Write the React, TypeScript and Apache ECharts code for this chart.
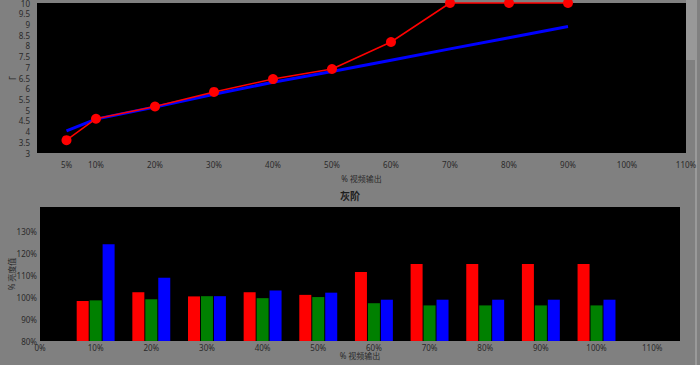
import React, { useEffect, useRef } from "react";
import * as echarts from "echarts";

// Top chart: gamma
const gammaX = [5, 10, 20, 30, 40, 50, 60, 70, 80, 90];
const gammaMeasured = [3.6, 4.6, 5.17, 5.85, 6.45, 6.92, 8.18, 10, 10, 10];
const gammaTarget = [4.03, 4.58, 5.15, 5.74, 6.3, 6.8, 7.33, 7.86, 8.38, 8.9];
const topXLabels = [5, 10, 20, 30, 40, 50, 60, 70, 80, 90, 100, 110];

// Bottom chart: grayscale RGB levels
const levelX = [10, 20, 30, 40, 50, 60, 70, 80, 90, 100];
const redLevels = [98.2, 102.2, 100.3, 102.2, 101.0, 111.4, 115.0, 115.0, 115.0, 115.0];
const greenLevels = [98.5, 99.0, 100.4, 99.5, 100.0, 97.2, 96.2, 96.2, 96.2, 96.2];
const blueLevels = [124.0, 108.8, 100.4, 103.0, 102.0, 98.8, 98.8, 98.8, 98.8, 98.8];
const bottomXLabels = [0, 10, 20, 30, 40, 50, 60, 70, 80, 90, 100, 110];
const bottomYLabels = [80, 90, 100, 110, 120, 130];

const FONT = "Noto Sans, Noto Sans CJK SC, sans-serif";
const TXT = "#2a2a2a";

export default function App() {
  const ref = useRef<HTMLDivElement>(null);
  useEffect(() => {
    if (!ref.current) return;
    const chart = echarts.init(ref.current, undefined, { renderer: "svg" });
    const lbl = { color: TXT, fontSize: 8, fontFamily: FONT };
    const pair = (xs: number[], ys: number[]) => xs.map((x, i) => [x, ys[i]]);
    chart.setOption({
      animation: false,
      backgroundColor: "#808080",
      textStyle: { fontFamily: FONT },
      title: {
        text: "灰阶",
        left: "center",
        top: 186,
        textStyle: { color: "#1e1e1e", fontSize: 10, fontWeight: "bold", fontFamily: FONT },
      },
      grid: [
        { left: 37, top: 3, width: 649, height: 150, show: true, backgroundColor: "#000", borderWidth: 0, containLabel: false, outerBoundsMode: "none" },
        { left: 40, top: 207, width: 640, height: 134, show: true, backgroundColor: "#000", borderWidth: 0, containLabel: false, outerBoundsMode: "none" },
      ],
      xAxis: [
        {
          gridIndex: 0,
          type: "value",
          min: 0,
          max: 110,
          interval: 10,
          axisLine: { show: false },
          axisTick: { show: false },
          splitLine: { show: false },
          axisLabel: { ...lbl, margin: 7, customValues: topXLabels, formatter: (v: number) => v + "%" },
          name: "% 视频输出",
          nameLocation: "middle",
          nameGap: 21,
          nameMoveOverlap: false,
          nameTextStyle: { ...lbl },
        },
        {
          gridIndex: 1,
          type: "value",
          min: 0,
          max: 115,
          interval: 10,
          axisLine: { show: false },
          axisTick: { show: false },
          splitLine: { show: false },
          axisLabel: { ...lbl, margin: 2, customValues: bottomXLabels, formatter: (v: number) => v + "%" },
          name: "% 视频输出",
          nameLocation: "middle",
          nameGap: 10,
          nameMoveOverlap: false,
          nameTextStyle: { ...lbl },
        },
      ],
      yAxis: [
        {
          gridIndex: 0,
          type: "value",
          min: 3,
          max: 10,
          interval: 0.5,
          axisLine: { show: false },
          axisTick: { show: false },
          splitLine: { show: false },
          axisLabel: { ...lbl, margin: 7 },
          name: "Γ",
          nameLocation: "middle",
          nameRotate: 90,
          nameGap: 21,
          nameMoveOverlap: false,
          nameTextStyle: { ...lbl },
        },
        {
          gridIndex: 1,
          type: "value",
          min: 80,
          max: 141,
          interval: 10,
          axisLine: { show: false },
          axisTick: { show: false },
          splitLine: { show: false },
          axisLabel: { ...lbl, margin: 3, customValues: bottomYLabels, formatter: (v: number) => v + "%" },
          name: "% 亮度值",
          nameLocation: "middle",
          nameRotate: 90,
          nameGap: 25,
          nameMoveOverlap: false,
          nameTextStyle: { ...lbl },
        },
      ],
      series: [
        {
          type: "line",
          xAxisIndex: 0,
          yAxisIndex: 0,
          data: pair(gammaX, gammaTarget),
          showSymbol: false,
          symbol: "none",
          lineStyle: { color: "#0000ff", width: 3 },
          z: 2,
        },
        {
          type: "line",
          xAxisIndex: 0,
          yAxisIndex: 0,
          data: pair(gammaX, gammaMeasured),
          symbol: "circle",
          symbolSize: 10,
          clip: false,
          lineStyle: { color: "#ff0000", width: 1.5 },
          itemStyle: { color: "#ff0000" },
          z: 3,
        },
        {
          type: "bar",
          xAxisIndex: 1,
          yAxisIndex: 1,
          data: pair(levelX, redLevels),
          barWidth: 12,
          barGap: "8%",
          itemStyle: { color: "#ff0000" },
        },
        {
          type: "bar",
          xAxisIndex: 1,
          yAxisIndex: 1,
          data: pair(levelX, greenLevels),
          barWidth: 12,
          barGap: "8%",
          itemStyle: { color: "#008000" },
        },
        {
          type: "bar",
          xAxisIndex: 1,
          yAxisIndex: 1,
          data: pair(levelX, blueLevels),
          barWidth: 12,
          barGap: "8%",
          itemStyle: { color: "#0000ff" },
        },
      ],
      graphic: [
        { type: "rect", shape: { x: 695, y: 0, width: 2, height: 365 }, style: { fill: "#9a9a9a" }, silent: true },
        { type: "rect", shape: { x: 686, y: 0, width: 11, height: 60 }, style: { fill: "#989898" }, silent: true },
      ],
    });
    return () => chart.dispose();
  }, []);
  return (
    <div
      ref={ref}
      style={{ position: "absolute", left: 0, top: 0, width: 700, height: 365 }}
    />
  );
}
